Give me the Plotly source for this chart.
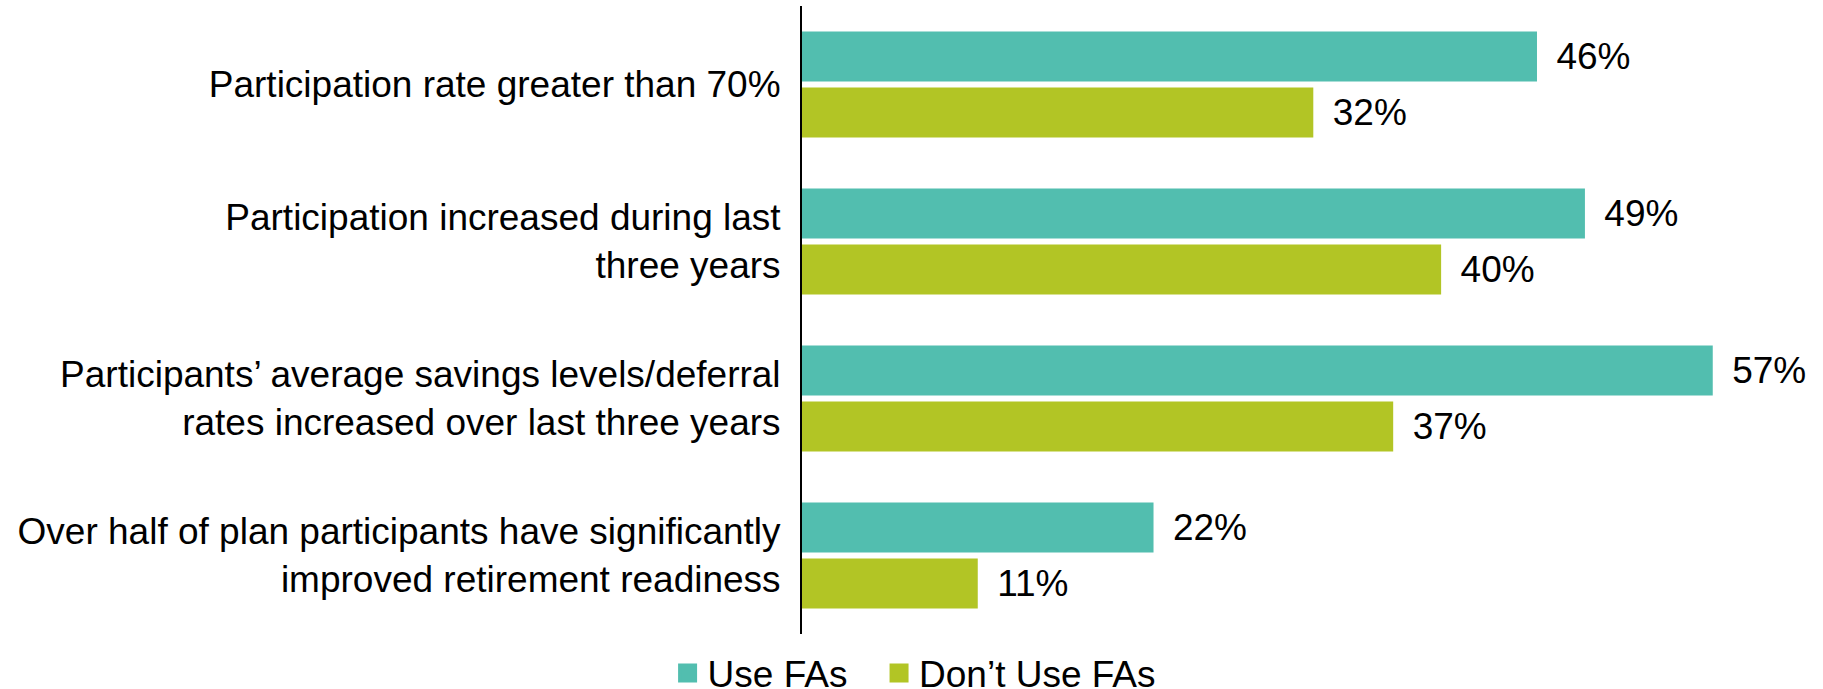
import plotly.graph_objects as go

# Survey outcomes for plan sponsors, split by use of financial advisors
categories = [
    "Participation rate greater than 70%",
    "Participation increased during last<br>three years",
    "Participants\u2019 average savings levels/deferral<br>rates increased over last three years",
    "Over half of plan participants have significantly<br>improved retirement readiness",
]
use_fas = [46, 49, 57, 22]
dont_use_fas = [32, 40, 37, 11]

series_names = ["Use FAs", "Don\u2019t Use FAs"]
series_colors = ["#52BEAF", "#B2C525"]
legend_ids = ["legend", "legend2"]
legend_x = [0.3662, 0.4822]   # container fractions of each swatch group

FONT = "Liberation Sans, Arial, Helvetica, sans-serif"
FONT_SIZE = 37
LABEL_GAP = "\u00a0\u2006"

fig = go.Figure()
for name, values, color, lg in zip(series_names, [use_fas, dont_use_fas],
                                   series_colors, legend_ids):
    fig.add_trace(go.Bar(
        y=categories,
        x=values,
        orientation="h",
        name=name,
        marker=dict(color=color, line=dict(width=0)),
        text=[f"{LABEL_GAP}{v}%" for v in values],
        textposition="outside",
        textfont=dict(family=FONT, size=FONT_SIZE, color="#000000"),
        cliponaxis=False,
        showlegend=False,
    ))
    # legend swatch
    fig.add_trace(go.Scatter(
        x=[None], y=[None], mode="markers", name=name,
        marker=dict(symbol="square", size=16, color=color,
                    line=dict(width=3, color=color)),
        showlegend=True,
        legend=lg,
    ))

legend_style = dict(
    orientation="h",
    xref="container", yref="container",
    xanchor="left", yanchor="middle",
    y=0.0225,
    font=dict(family=FONT, size=FONT_SIZE, color="#000000"),
    itemsizing="trace",
    bgcolor="rgba(0,0,0,0)",
)

fig.update_layout(
    width=1823,
    height=689,
    margin=dict(l=802, r=0, t=6, b=55),
    paper_bgcolor="white",
    plot_bgcolor="white",
    barmode="group",
    bargap=0.287,
    bargroupgap=0.107,
    font=dict(family=FONT, size=FONT_SIZE, color="#000000"),
    showlegend=True,
    legend=dict(x=legend_x[0], **legend_style),
    legend2=dict(x=legend_x[1], **legend_style),
)

fig.update_xaxes(
    range=[0, 63.9],
    visible=False,
    showgrid=False,
    zeroline=False,
)
fig.update_yaxes(
    autorange=False,
    range=[3.5, -0.5],
    showgrid=False,
    showline=True,
    linecolor="#000000",
    linewidth=2,
    ticks="",
    ticklabelstandoff=12,
    tickfont=dict(family=FONT, size=FONT_SIZE, color="#000000"),
)

fig.write_html("out.html")
